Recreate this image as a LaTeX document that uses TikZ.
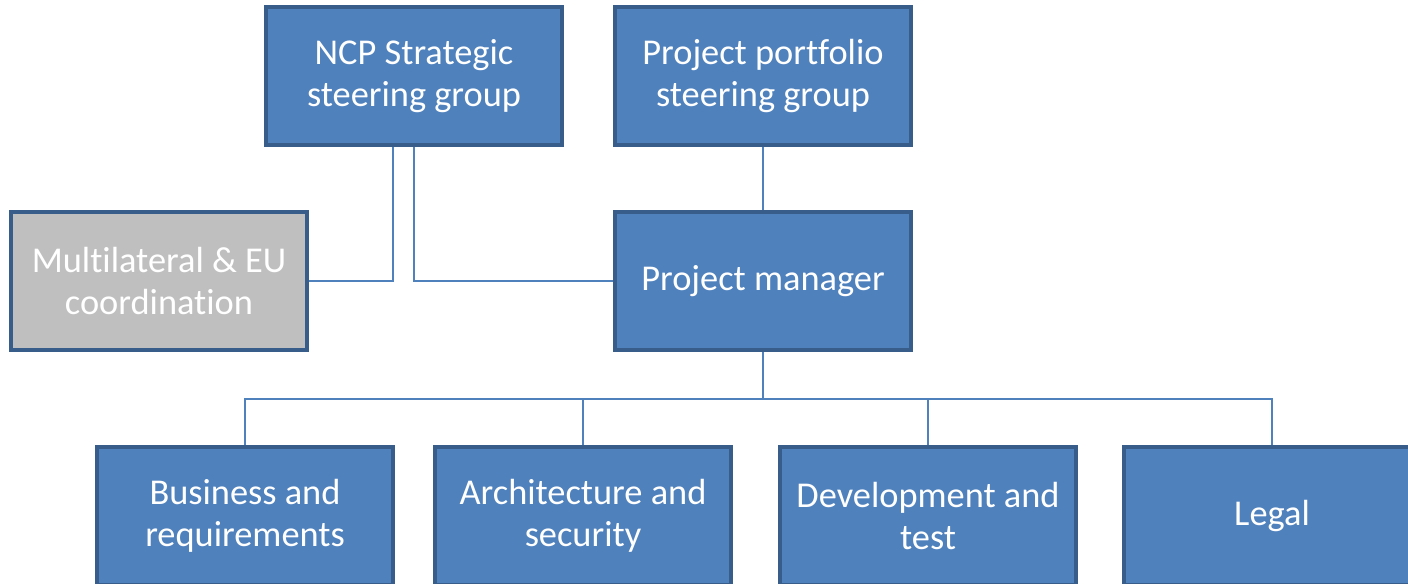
\documentclass[tikz,border=0pt]{standalone}
\usepackage{fontspec}
\setmainfont{Carlito}[Ligatures=NoCommon]
\definecolor{boxblue}{RGB}{79,129,189}
\definecolor{boxedge}{RGB}{56,93,138}
\definecolor{boxgray}{RGB}{191,191,191}
\tikzset{
  orgbox/.style={draw=boxedge, line width=2pt, fill=boxblue, text=white,
    minimum width=5.92cm, minimum height=2.76cm, align=center,
    font=\fontsize{20.7pt}{23.6pt}\selectfont},
  link/.style={draw=boxblue, line width=1.1pt}
}
\begin{document}
\begin{tikzpicture}[x=0.02cm,y=-0.02cm]
        \useasboundingbox (0,0) rectangle (1408,584);
        \clip (0,0) rectangle (1408,584);
        % top row
        \node[orgbox] (ncp) at (414,76) {NCP Strategic\\steering group};
        \node[orgbox] (portfolio) at (763,76) {Project portfolio\\steering group};
        % middle row
        \node[orgbox, fill=boxgray] (multi) at (159,281) {Multilateral \& EU\\coordination};
        \node[orgbox] (pm) at (763,281) {Project manager};
        % teams
        \node[orgbox] (business) at (245,516) {Business and\\requirements};
        \node[orgbox] (arch) at (583,516) {Architecture and\\security};
        \node[orgbox] (dev) at (928,516) {Development and\\test};
        \node[orgbox] (legal) at (1272,516) {Legal};
        % links
        \draw[link] ([xshift=-0.42cm]ncp.south) |- (multi.east);
        \draw[link] (ncp.south) |- (pm.west);
        \draw[link] (portfolio.south) -- (pm.north);
        \coordinate (bus) at (763,399);
        \draw[link] (pm.south) -- (bus);
        \foreach \team in {business,arch,dev,legal}
          \draw[link] (bus) -| (\team.north);
      \end{tikzpicture}
\end{document}
